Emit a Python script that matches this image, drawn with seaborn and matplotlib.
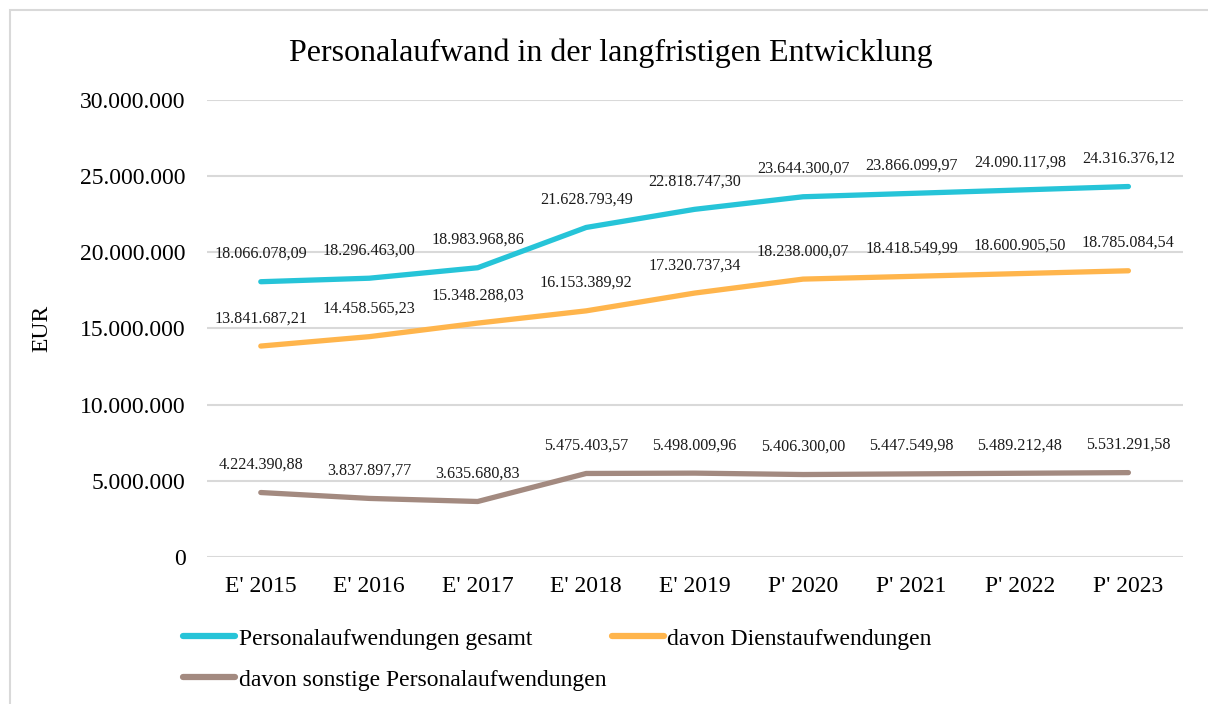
import matplotlib.pyplot as plt
import seaborn as sns
import pandas as pd
from matplotlib.patches import Rectangle

# Data
years = ["E' 2015", "E' 2016", "E' 2017", "E' 2018", "E' 2019",
         "P' 2020", "P' 2021", "P' 2022", "P' 2023"]
gesamt = [18066078.09, 18296463.00, 18983968.86, 21628793.49, 22818747.30,
          23644300.07, 23866099.97, 24090117.98, 24316376.12]
dienst = [13841687.21, 14458565.23, 15348288.03, 16153389.92, 17320737.34,
          18238000.07, 18418549.99, 18600905.50, 18785084.54]
sonstige = [4224390.88, 3837897.77, 3635680.83, 5475403.57, 5498009.96,
            5406300.00, 5447549.98, 5489212.48, 5531291.58]
series_names = ["Personalaufwendungen gesamt", "davon Dienstaufwendungen",
                "davon sonstige Personalaufwendungen"]
colors = ["#26C4D8", "#FFB54C", "#A38A80"]
y_ticks = [0, 5000000, 10000000, 15000000, 20000000, 25000000, 30000000]


def de_num(v, decimals=2):
    s = f"{v:,.{decimals}f}"
    return s.replace(",", "X").replace(".", ",").replace("X", ".")


frames = []
for name, vals in zip(series_names, [gesamt, dienst, sonstige]):
    frames.append(pd.DataFrame({"Jahr": years, "Wert": vals, "Reihe": name}))
df = pd.concat(frames, ignore_index=True)

sns.set_style("white")
plt.rcParams['font.family'] = ['Liberation Serif', 'DejaVu Serif']
plt.rcParams['text.color'] = 'black'
plt.rcParams['axes.labelcolor'] = 'black'

fig = plt.figure(figsize=(12.08, 7.04), dpi=100)
ax = fig.add_axes([0.171, 0.209, 0.808, 0.649])

sns.lineplot(data=df, x="Jahr", y="Wert", hue="Reihe", palette=colors,
             linewidth=3.8, ax=ax, legend=False, sort=False,
             solid_capstyle="round")

# data labels
for name, vals in zip(series_names, [gesamt, dienst, sonstige]):
    for i, v in enumerate(vals):
        ax.annotate(de_num(v), (i, v), xytext=(0, 20), textcoords="offset points",
                    ha="center", va="center", fontsize=11.6, color="#1a1a1a")

ax.set_ylim(0, 30000000)
ax.set_xlim(-0.5, len(years) - 0.5)
ax.set_yticks(y_ticks)
ax.set_yticklabels([de_num(t, 0) for t in y_ticks])
ax.yaxis.grid(True, color="#D9D9D9", linewidth=1.5)
ax.xaxis.grid(False)
for s in ax.spines.values():
    s.set_visible(False)
ax.tick_params(axis="both", length=0, labelsize=17, colors="black")
ax.tick_params(axis="x", pad=14)
ax.tick_params(axis="y", pad=15)
ax.set_xlabel("")
ax.set_ylabel("EUR", fontsize=17, labelpad=20)

fig.text(0.506, 0.925, "Personalaufwand in der langfristigen Entwicklung",
         ha="center", va="center", fontsize=23)

# legend: row1 gesamt + dienst, row2 sonstige
handles = [plt.Line2D([], [], color=c, linewidth=4.5, solid_capstyle="round") for c in colors]
order = [0, 2, 1]
fig.legend([handles[i] for i in order], [series_names[i] for i in order],
           ncol=2, loc="upper left", bbox_to_anchor=(0.134, 0.138),
           frameon=False, fontsize=17, handlelength=2.2, handletextpad=0.15,
           columnspacing=0.25, labelspacing=0.82)

# outer border like the source chart
fig.patches.append(Rectangle((10 / 1208, -0.1), 1.2, 1 - 10 / 704 + 0.1,
                             transform=fig.transFigure, fill=False,
                             edgecolor="#D9D9D9", linewidth=1.5))

fig.savefig("out.png", dpi=100)
